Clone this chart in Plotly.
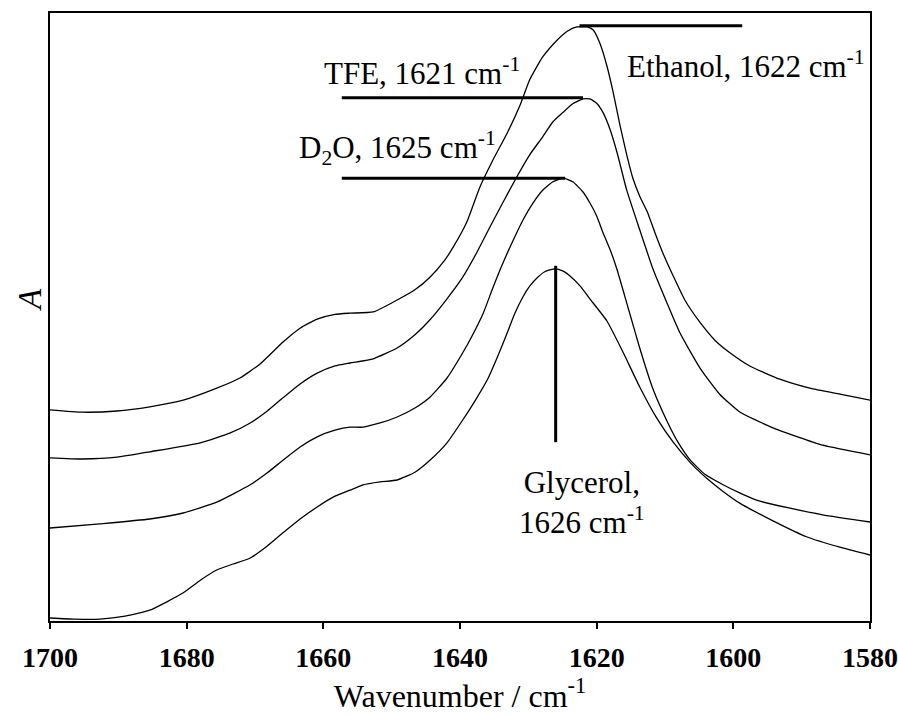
import plotly.graph_objects as go

# ---------------- data (absorbance in arbitrary units) ----------------
eth_wn = [1700, 1695.2, 1690.2, 1685.4, 1680.5, 1675.6, 1672.2, 1669.3, 1665.9, 1663.4,
          1660.9, 1658.3, 1656.1, 1652.7, 1649.2, 1646.6, 1644.4, 1642.2, 1641.0, 1639.0,
          1637.1, 1635.2, 1633.1, 1631.2, 1629.8, 1627.9, 1625.8, 1624.3, 1622.9, 1621.4,
          1620.5, 1619.5, 1618.5, 1617.6, 1616.6, 1615.6, 1614.7, 1613.7, 1612.6, 1611.5,
          1610.3, 1608.8, 1607.1, 1604.9, 1602.7, 1600.5, 1597.6, 1593.2, 1588.8, 1584.4, 1580]
eth_a = [0.352, 0.348, 0.350, 0.357, 0.368, 0.388, 0.405, 0.428, 0.465, 0.488,
         0.503, 0.511, 0.513, 0.515, 0.535, 0.552, 0.573, 0.602, 0.623, 0.665,
         0.723, 0.768, 0.813, 0.860, 0.902, 0.940, 0.968, 0.983, 0.990, 0.990,
         0.985, 0.962, 0.925, 0.882, 0.827, 0.777, 0.738, 0.708, 0.682, 0.648,
         0.613, 0.575, 0.535, 0.498, 0.468, 0.447, 0.425, 0.403, 0.388, 0.378, 0.368]

tfe_wn = [1700, 1695.2, 1690.2, 1685.4, 1678.0, 1673.7, 1670.7, 1668.2, 1665.9, 1663.4,
          1660.9, 1658.3, 1656.1, 1652.7, 1649.2, 1646.6, 1644.4, 1641.9, 1639.6, 1637.5,
          1635.6, 1633.7, 1631.7, 1629.8, 1627.9, 1626.4, 1624.9, 1623.5, 1622.0, 1621.0,
          1620.0, 1619.1, 1618.0, 1617.0, 1615.6, 1613.7, 1611.8, 1610.0, 1607.8, 1604.9,
          1602.0, 1599.0, 1594.2, 1586.9, 1580]
tfe_a = [0.272, 0.270, 0.273, 0.282, 0.297, 0.313, 0.330, 0.350, 0.372, 0.395,
         0.413, 0.425, 0.430, 0.437, 0.455, 0.477, 0.502, 0.537, 0.573, 0.615,
         0.657, 0.698, 0.740, 0.777, 0.807, 0.832, 0.848, 0.862, 0.870, 0.870,
         0.863, 0.848, 0.818, 0.780, 0.718, 0.652, 0.588, 0.538, 0.480, 0.422,
         0.378, 0.348, 0.322, 0.293, 0.277]

d2o_wn = [1700, 1692.7, 1685.4, 1680.5, 1675.6, 1670.7, 1668.2, 1665.9, 1663.4, 1660.9,
          1658.3, 1656.1, 1654.2, 1651.7, 1649.2, 1646.6, 1644.4, 1641.9, 1639.6, 1638.1,
          1636.6, 1635.2, 1633.7, 1632.2, 1630.8, 1629.3, 1627.9, 1626.4, 1624.9, 1623.5,
          1622.0, 1621.0, 1620.0, 1619.1, 1618.0, 1617.0, 1615.4, 1613.7, 1611.8, 1609.7,
          1608.1, 1606.3, 1604.1, 1601.5, 1599.0, 1596.5, 1591.7, 1586.9, 1580]
d2o_a = [0.155, 0.162, 0.170, 0.180, 0.198, 0.227, 0.247, 0.268, 0.290, 0.307,
         0.318, 0.323, 0.323, 0.330, 0.340, 0.355, 0.373, 0.405, 0.447, 0.478,
         0.513, 0.555, 0.597, 0.635, 0.668, 0.697, 0.718, 0.732, 0.738, 0.732,
         0.715, 0.697, 0.675, 0.648, 0.618, 0.585, 0.522, 0.455, 0.388, 0.333,
         0.298, 0.268, 0.244, 0.227, 0.213, 0.201, 0.188, 0.177, 0.165]

gly_wn = [1700, 1696.3, 1692.7, 1689.0, 1685.4, 1682.9, 1680.5, 1678.0, 1675.6, 1673.2,
          1670.7, 1668.2, 1665.9, 1663.4, 1660.9, 1658.3, 1656.1, 1654.2, 1651.7, 1649.2,
          1646.6, 1644.4, 1641.9, 1639.6, 1637.8, 1636.0, 1634.6, 1633.1, 1632.0, 1630.8,
          1629.8, 1628.7, 1627.6, 1626.1, 1624.9, 1623.9, 1622.4, 1621.0, 1618.5, 1616.1,
          1613.7, 1611.2, 1608.8, 1606.3, 1603.9, 1601.5, 1599.0, 1594.2, 1589.2, 1584.4, 1580]
gly_a = [0.005, 0.003, 0.003, 0.008, 0.018, 0.032, 0.047, 0.068, 0.085, 0.095,
         0.105, 0.125, 0.147, 0.170, 0.190, 0.208, 0.218, 0.227, 0.232, 0.235,
         0.248, 0.268, 0.297, 0.335, 0.367, 0.402, 0.438, 0.480, 0.512, 0.540,
         0.558, 0.572, 0.582, 0.587, 0.583, 0.575, 0.558, 0.537, 0.500, 0.447,
         0.390, 0.338, 0.298, 0.264, 0.238, 0.216, 0.196, 0.167, 0.140, 0.123, 0.110]

tick_vals = [1700, 1680, 1660, 1640, 1620, 1600, 1580]

# peak marker lines: (x0, x1, y0, y1)
eth_mark = (1622.5, 1598.7, 0.992, 0.992)
tfe_mark = (1657.3, 1622.0, 0.872, 0.872)
d2o_mark = (1657.3, 1624.6, 0.738, 0.738)
gly_mark = (1626.0, 1626.0, 0.592, 0.298)

# labels: (text, x, y, xanchor)
labels = [
    ("Ethanol, 1622 cm<sup>-1</sup>", 1615.8, 0.927, "left"),
    ("TFE, 1621 cm<sup>-1</sup>", 1660.2, 0.915, "left"),
    ("D<sub>2</sub>O, 1625 cm<sup>-1</sup>", 1663.9, 0.789, "left"),
    ("Glycerol,<br>1626 cm<sup>-1</sup>", 1622.1, 0.197, "center"),
]

FONT = "Liberation Serif, Times New Roman, serif"

fig = go.Figure()
for wn, a in [(eth_wn, eth_a), (tfe_wn, tfe_a), (d2o_wn, d2o_a), (gly_wn, gly_a)]:
    fig.add_trace(go.Scatter(x=wn, y=a, mode="lines",
                             line=dict(color="black", width=1.3, shape="spline", smoothing=0.5),
                             showlegend=False, hoverinfo="skip"))

for x0, x1, y0, y1 in [eth_mark, tfe_mark, d2o_mark, gly_mark]:
    fig.add_shape(type="line", xref="x", yref="y", x0=x0, x1=x1, y0=y0, y1=y1,
                  line=dict(color="black", width=3))

for text, x, y, xa in labels:
    fig.add_annotation(text=text, x=x, y=y, xref="x", yref="y", showarrow=False,
                       xanchor=xa, yanchor="middle", align="center",
                       font=dict(family=FONT, size=31, color="black"))

# y-axis title "A" (italic), placed in paper coordinates left of the plot
fig.add_annotation(text="<i>A</i>", xref="paper", yref="paper",
                   x=(30 - 50) / 820, y=(621 - 300) / 608,
                   showarrow=False, textangle=-90, xanchor="center", yanchor="middle",
                   font=dict(family=FONT, size=33, color="black", style="italic"))

fig.update_layout(
    width=898, height=715,
    margin=dict(l=50, r=28, t=13, b=94, autoexpand=False),
    paper_bgcolor="white", plot_bgcolor="white",
    font=dict(family=FONT, color="black"),
    xaxis=dict(range=[1700, 1580], tickvals=tick_vals, ticks="outside", ticklen=6,
               tickwidth=1.5, tickcolor="black", showgrid=False, zeroline=False,
               showline=True, linecolor="black", linewidth=1.5, mirror=True,
               automargin=False, ticklabelstandoff=5,
               tickfont=dict(family=FONT, size=28, color="black", weight="bold"),
               title=dict(text="Wavenumber / cm<sup>-1</sup>", standoff=8,
                          font=dict(family=FONT, size=32, color="black"))),
    yaxis=dict(range=[0, 1.0133], showticklabels=False, ticks="", showgrid=False,
               zeroline=False, showline=True, linecolor="black", linewidth=1.5, mirror=True,
               automargin=False),
)

fig.write_html("out.html")
